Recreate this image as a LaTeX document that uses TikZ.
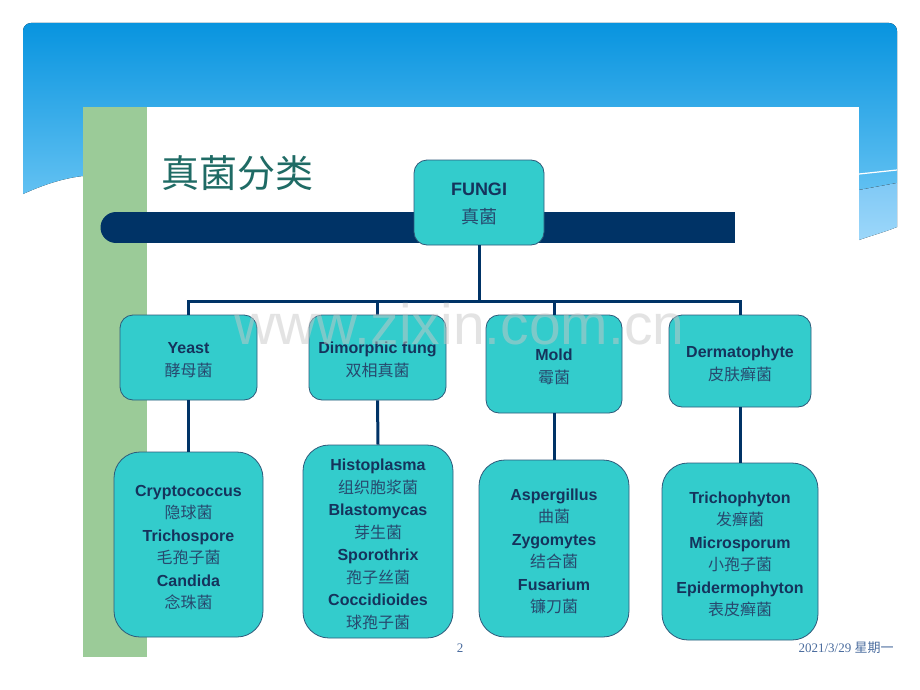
\documentclass[tikz,border=0pt]{standalone}
\usepackage{fontspec}
\setmainfont{Liberation Sans}
\newfontfamily\cjk{Noto Sans CJK SC}
\newfontfamily\serifnum{Liberation Serif}
\definecolor{blueTop}{HTML}{0894DF}
\definecolor{blueBot}{HTML}{62C1F2}
\definecolor{lightTop}{HTML}{80C9F5}
\definecolor{lightBot}{HTML}{9CD7FA}
\definecolor{greenbar}{HTML}{9BCB98}
\definecolor{navy}{HTML}{003366}
\definecolor{tealfill}{HTML}{33CCCC}
\definecolor{boxline}{HTML}{2E5A7A}
\definecolor{titlec}{HTML}{1F6B65}
\definecolor{entext}{HTML}{15335C}
\definecolor{cntext}{HTML}{27496E}
\definecolor{footc}{HTML}{4A6C9E}
\definecolor{wmgray}{HTML}{C8C8C8}
\newcommand\entx[1]{{\bfseries\color{entext}#1}}
\newcommand\firstln[1]{\rule{0pt}{17pt}{\bfseries\color{entext}#1}}
\newcommand\cntx[1]{{\cjk\color{cntext}#1}}
\tikzset{
  tbox/.style={draw=boxline, line width=0.8pt, fill=tealfill, align=center, inner sep=0pt},
  small/.style={tbox, rounded corners=13pt, font=\fontsize{16}{23}\selectfont},
  big/.style={tbox, rounded corners=26pt, font=\fontsize{16}{22.5}\selectfont},
  conn/.style={draw=navy, line width=3pt},
}
\begin{document}
\begin{tikzpicture}[x=1pt,y=-1pt]
\useasboundingbox (0,0) rectangle (920,690);
% background panel
\begin{scope}
\clip[rounded corners=8pt] (23,23) rectangle (897,270);
\fill[top color=blueTop, bottom color=blueBot] (23,23) -- (897,23) -- (897,183) -- (859,190) -- (83,176)
  .. controls (65,178) and (45,184) .. (23,194) -- cycle;
\fill[top color=lightTop, bottom color=lightBot] (859,190) -- (897,183) -- (897,227)
  .. controls (885,232) and (870,236) .. (859,240) -- cycle;
\draw[white, line width=1.2pt] (859,174) -- (897,170);
\end{scope}
% slide
\fill[white] (147,107) rectangle (859,657);
\fill[greenbar] (83,107) rectangle (147,657);
% dark bar
\fill[navy] (116,212) rectangle (735,243);
\fill[navy] (116,227.5) circle[radius=15.5pt];
% title
\node[font=\cjk\fontsize{38}{38}\selectfont, text=titlec] (title) at (237,173) {真菌分类};
% nodes
\node[tbox, rounded corners=13pt, minimum width=130pt, minimum height=85pt, font=\fontsize{18}{28}\selectfont]
  (fungi) at (479,202.5) {\rule{0pt}{15pt}\entx{FUNGI}\\\cntx{真菌}};
\node[small, minimum width=137pt, minimum height=85pt] (yeast) at (188.5,357.5) {\firstln{Yeast}\\\cntx{酵母菌}};
\node[small, minimum width=137pt, minimum height=85pt] (dimo) at (377.5,357.5) {\firstln{Dimorphic fung}\\\cntx{双相真菌}};
\node[small, minimum width=136pt, minimum height=98pt] (mold) at (554,364) {\firstln{Mold}\\\cntx{霉菌}};
\node[small, minimum width=142pt, minimum height=92pt] (derm) at (740,361) {\firstln{Dermatophyte}\\\cntx{皮肤癣菌}};
\node[big, minimum width=149pt, minimum height=185pt] (crypto) at (188.5,544.5)
  {\firstln{Cryptococcus}\\\cntx{隐球菌}\\\entx{Trichospore}\\\cntx{毛孢子菌}\\\entx{Candida}\\\cntx{念珠菌}};
\node[big, minimum width=150pt, minimum height=193pt] (histo) at (378,541.5)
  {\firstln{Histoplasma}\\\cntx{组织胞浆菌}\\\entx{Blastomycas}\\\cntx{芽生菌}\\\entx{Sporothrix}\\\cntx{孢子丝菌}\\\entx{Coccidioides}\\\cntx{球孢子菌}};
\node[big, minimum width=150pt, minimum height=177pt] (asper) at (554,548.5)
  {\firstln{Aspergillus}\\\cntx{曲菌}\\\entx{Zygomytes}\\\cntx{结合菌}\\\entx{Fusarium}\\\cntx{镰刀菌}};
\node[big, minimum width=156pt, minimum height=177pt] (tricho) at (740,551.5)
  {\firstln{Trichophyton}\\\cntx{发癣菌}\\\entx{Microsporum}\\\cntx{小孢子菌}\\\entx{Epidermophyton}\\\cntx{表皮癣菌}};
% connectors
\coordinate (hub) at (479,301);
\draw[conn] (fungi.south) -- (hub);
\draw[conn] (yeast.north) -- (yeast.north |- hub) -- (derm.north |- hub) -- (derm.north);
\draw[conn] (dimo.north) -- (dimo.north |- hub);
\draw[conn] (mold.north) -- (mold.north |- hub);
\draw[conn] (yeast.south) -- (crypto.north);
\draw[conn] (dimo.south) -- (histo.north);
\draw[conn] (mold.south) -- (asper.north);
\draw[conn] (derm.south) -- (tricho.north);
% watermark
\node[anchor=base, font=\fontsize{57}{57}\selectfont, text=wmgray, opacity=0.5] (wm) at (459.5,344) {www.zixin.com.cn};
% footer
\node[anchor=base, font=\serifnum\fontsize{13}{13}\selectfont, text=footc] (pg) at (460,652) {2};
\node[anchor=base, font=\serifnum\fontsize{13}{13}\selectfont, text=footc] (date) at (846,652) {2021/3/29 {\cjk 星期一}};
\end{tikzpicture}
\end{document}
